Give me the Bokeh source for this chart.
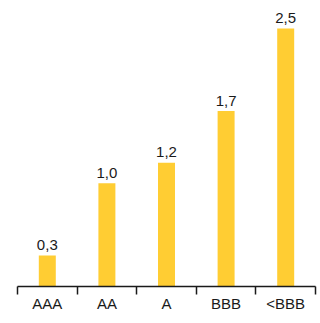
from bokeh.plotting import figure
from bokeh.models import ColumnDataSource, FixedTicker, LinearAxis, Range1d
from bokeh.core.properties import value
from bokeh.embed import file_html
from bokeh.resources import INLINE

categories = ["AAA", "AA", "A", "BBB", "<BBB"]
values = [0.3, 1.0, 1.2, 1.7, 2.5]
value_labels = ["0,3", "1,0", "1,2", "1,7", "2,5"]

BAR_COLOR = "#FFCD33"
TEXT_COLOR = "#1a1a1a"
FONT = "Liberation Sans"

centers = [i + 0.5 for i in range(len(categories))]
bounds = [i for i in range(len(categories) + 1)]

src = ColumnDataSource(dict(x=centers, top=values, label=value_labels))

p = figure(width=320, height=323, output_backend="svg", toolbar_location=None,
           x_range=Range1d(0, len(categories)), y_range=Range1d(0, 2.771),
           x_axis_location=None, y_axis_location=None,
           min_border_left=17, min_border_right=5, min_border_top=0, min_border_bottom=37)
p.outline_line_color = None
p.xgrid.visible = False
p.ygrid.visible = False

p.vbar(x="x", top="top", width=0.285, bottom=0, source=src,
       fill_color=BAR_COLOR, line_color=None)
p.text(x="x", y="top", text="label", source=src, text_align="center",
       text_baseline="alphabetic", y_offset=-10.5,
       text_font=value(FONT), text_font_size="15px", text_color=TEXT_COLOR)

ax = LinearAxis(ticker=FixedTicker(ticks=centers, minor_ticks=bounds))
ax.major_label_overrides = {c: lab for c, lab in zip(centers, categories)}
ax.major_tick_line_color = None
ax.major_tick_out = 0
ax.major_tick_in = 0
ax.minor_tick_out = 8
ax.minor_tick_in = 0
ax.minor_tick_line_color = TEXT_COLOR
ax.minor_tick_line_width = 1.5
ax.axis_line_color = TEXT_COLOR
ax.axis_line_width = 1.5
ax.major_label_standoff = 0
ax.major_label_text_font = FONT
ax.major_label_text_font_size = "15px"
ax.major_label_text_color = TEXT_COLOR
p.add_layout(ax, "below")

open("out.html", "w").write(file_html(p, INLINE))
